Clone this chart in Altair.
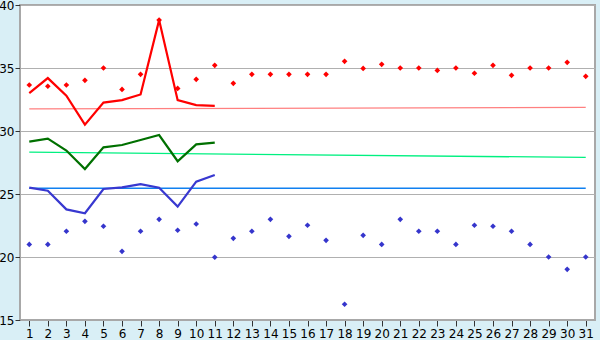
import altair as alt
import pandas as pd

days = list(range(1, 32))
days_part = list(range(1, 12))

red_pts = [33.65, 33.55, 33.65, 34.02, 35.0, 33.3, 34.5, 38.8, 33.38, 34.1, 35.21, 33.78,
           34.5, 34.5, 34.5, 34.5, 34.5, 35.53, 34.97, 35.29, 35.0, 35.0, 34.81, 35.0,
           34.58, 35.21, 34.42, 35.0, 35.0, 35.45, 34.34]
blue_pts = [21.0, 21.0, 22.04, 22.83, 22.44, 20.45, 22.04, 22.99, 22.12, 22.62, 19.98, 21.48,
            22.04, 22.99, 21.64, 22.52, 21.32, 16.25, 21.72, 21.0, 22.99, 22.04, 22.04, 21.0,
            22.52, 22.44, 22.04, 21.0, 20.0, 19.02, 20.0]

red_line = [33.0, 34.2, 32.8, 30.5, 32.25, 32.45, 32.9, 38.8, 32.45, 32.05, 32.0]
green_line = [29.15, 29.39, 28.45, 26.98, 28.7, 28.89, 29.29, 29.68, 27.6, 28.94, 29.07]
blue_line = [25.5, 25.26, 23.78, 23.47, 25.4, 25.53, 25.79, 25.5, 24.0, 25.98, 26.51]

trend_days = [1, 31]
pink_trend = [31.75, 31.88]
spring_trend = [28.32, 27.9]
blue_trend = [25.45, 25.45]

x_enc = alt.X("day:Q", scale=alt.Scale(domain=[0.5, 31.5], nice=False, zero=False),
              axis=alt.Axis(values=days, title=None, grid=False, tickSize=6, labelPadding=2,
                            tickColor="#333333", domainColor="#A8A8A8", labelFont="DejaVu Sans",
                            labelFontSize=12, labelColor="#000000", labelFlush=False))
y_enc = alt.Y("v:Q", scale=alt.Scale(domain=[15, 40], nice=False, zero=False),
              axis=alt.Axis(values=[15, 20, 25, 30, 35, 40], title=None, grid=True,
                            gridColor="#B0B0B0", gridWidth=1, tickSize=5, labelPadding=1,
                            tickColor="#333333", domainColor="#A8A8A8", labelFont="DejaVu Sans",
                            labelFontSize=12, labelColor="#000000", labelFlush=False))


def line_layer(xs, vals, color, width):
    df = pd.DataFrame({"day": xs, "v": vals})
    return alt.Chart(df).mark_line(color=color, strokeWidth=width, clip=True).encode(x=x_enc, y=y_enc)


def point_layer(xs, vals, color):
    df = pd.DataFrame({"day": xs, "v": vals})
    return alt.Chart(df).mark_point(shape="diamond", filled=True, color=color, size=32, opacity=1).encode(x=x_enc, y=y_enc)


chart = alt.layer(
    line_layer(trend_days, pink_trend, "#FF8080", 1.3),
    line_layer(trend_days, spring_trend, "#00F080", 1.3),
    line_layer(trend_days, blue_trend, "#1080F0", 1.5),
    line_layer(days_part, red_line, "#FF0000", 2.2),
    line_layer(days_part, green_line, "#007000", 2.2),
    line_layer(days_part, blue_line, "#3838D0", 2.2),
    point_layer(days, red_pts, "#FF0000"),
    point_layer(days, blue_pts, "#3535CC"),
).properties(
    width=575, height=315,
    padding={"left": 20, "top": 5, "right": 5, "bottom": 20},
    autosize=alt.AutoSizeParams(type="none"),
    background="#D9EFF6",
).configure_view(
    fill="#FFFFFF", stroke="#A8A8A8", strokeWidth=2
)

chart.save("out.html", embed_options={"renderer": "svg", "actions": False})
